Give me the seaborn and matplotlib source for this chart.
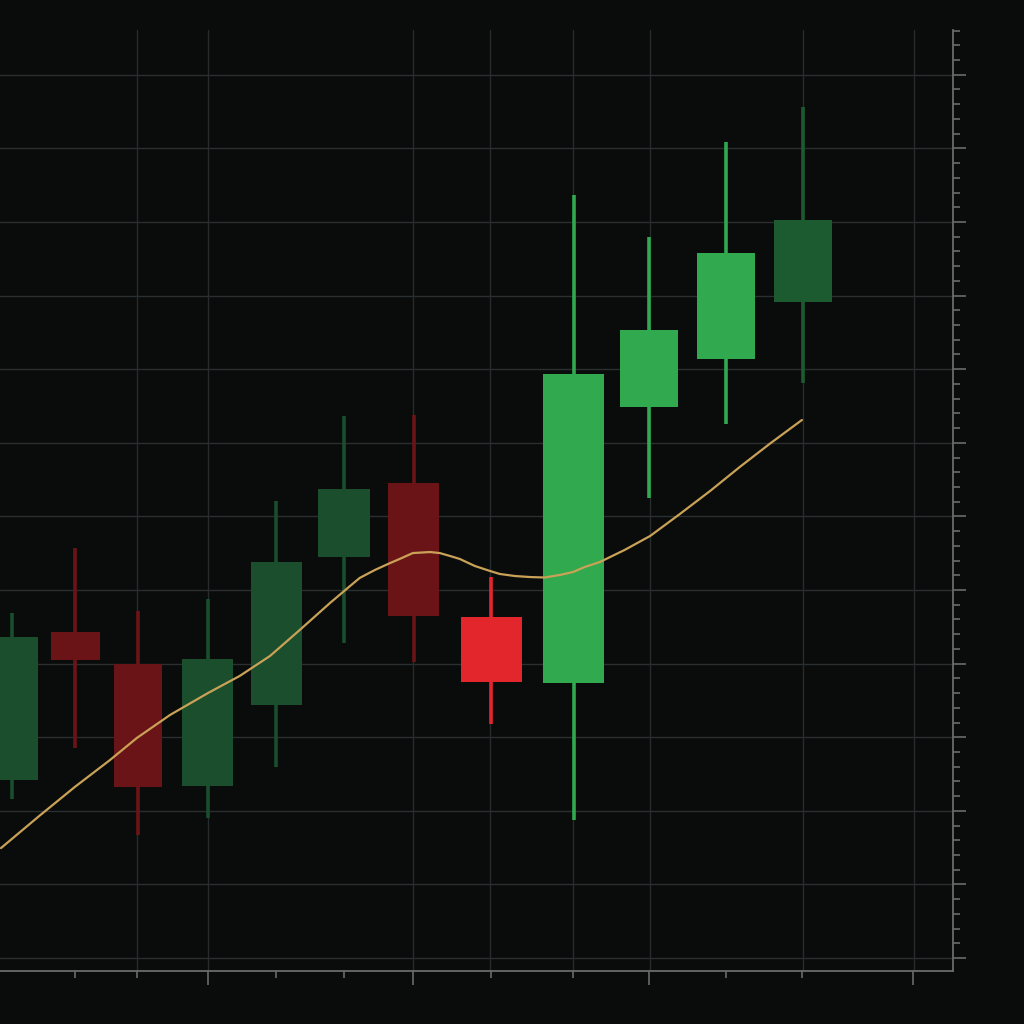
import matplotlib
matplotlib.use("Agg")
import matplotlib.pyplot as plt
import seaborn as sns
import pandas as pd
from matplotlib.ticker import FixedLocator, NullFormatter

# ---- data ----
sessions = [0.16, 1.08, 1.99, 3.00, 3.99, 4.97, 5.98, 7.11, 8.30, 9.39, 10.51, 11.62]
opens  = [112.09, 122.15, 119.97, 111.68, 117.19, 127.24, 132.27, 123.17, 118.68, 137.43, 140.69, 144.57]
highs  = [123.44, 127.85, 123.57, 124.39, 131.05, 136.82, 136.89, 125.88, 151.83, 148.98, 155.43, 157.81]
lows   = [110.80, 114.27, 108.36, 109.51, 112.98, 121.40, 120.11, 115.90, 109.38, 131.25, 136.28, 139.06]
closes = [121.81, 120.24, 111.62, 120.31, 126.90, 131.86, 123.23, 118.75, 139.67, 142.66, 147.89, 150.14]
tones  = ["dg", "dr", "dr", "dg", "dg", "dg", "dr", "br", "bg", "bg", "bg", "mg"]

ma_t = [0.00, 0.57, 1.07, 1.58, 1.97, 2.45, 3.00, 3.46, 3.90, 4.33, 4.77, 5.06, 5.20, 5.42, 5.64,
        5.78, 5.97, 6.22, 6.36, 6.51, 6.65, 6.87, 7.09, 7.23, 7.45, 7.67, 7.88, 8.10, 8.29, 8.46,
        8.68, 9.04, 9.41, 9.84, 10.28, 10.71, 11.14, 11.61]
ma_v = [107.47, 109.71, 111.62, 113.45, 114.95, 116.51, 118.00, 119.16, 120.52, 122.28, 124.12,
        125.27, 125.82, 126.36, 126.83, 127.11, 127.51, 127.58, 127.51, 127.31, 127.11, 126.63,
        126.29, 126.09, 125.95, 125.88, 125.85, 126.02, 126.22, 126.56, 126.90, 127.72, 128.67,
        130.16, 131.73, 133.36, 134.92, 136.55]

# ---- style ----
BG = "#0a0b0b"
palette = {"dg": "#1a4e2d", "dr": "#6b1417", "br": "#e2262b", "bg": "#30a94f", "mg": "#1c5b30"}
body_w = [0.74, 0.70, 0.70, 0.74, 0.74, 0.75, 0.74, 0.88, 0.88, 0.84, 0.85, 0.84]

sns.set_theme(style="dark")
plt.rcParams.update({
    "figure.facecolor": BG, "axes.facecolor": BG, "savefig.facecolor": BG,
})

fig = plt.figure(figsize=(10.24, 10.24), dpi=100)
ax = fig.add_axes([0.0, 53 / 1024, 953 / 1024, 941 / 1024])
ax.set_facecolor(BG)

ax.set_xlim(-0.014, 13.80)
ax.set_ylim(99.12, 163.04)

# grid
hgrid = [100 + 5 * i for i in range(13)]
vgrid = [1.97, 3.00, 5.97, 7.09, 8.29, 9.41, 11.62, 13.23]
for y in hgrid:
    ax.axhline(y, color="#2a2f31", lw=1.0, zorder=0)
for x in vgrid:
    ax.axvline(x, color="#272c2e", lw=1.0, zorder=0)

df = pd.DataFrame({"t": sessions, "open": opens, "high": highs, "low": lows,
                   "close": closes, "tone": tones, "w": body_w})
df["bottom"] = df[["open", "close"]].min(axis=1)
df["height"] = (df["open"] - df["close"]).abs()

for _, r in df.iterrows():
    c = palette[r["tone"]]
    ax.vlines(r["t"], r["low"], r["high"], color=c, lw=2.6, zorder=2)
    ax.bar(r["t"], r["height"], bottom=r["bottom"], width=r["w"], color=c,
           edgecolor="none", zorder=3)

ma = pd.DataFrame({"t": ma_t, "v": ma_v})
sns.lineplot(data=ma, x="t", y="v", ax=ax, color="#c9a257", lw=1.6, zorder=4,
             sort=False, estimator=None)

# axes / ticks
for s in ["top", "left"]:
    ax.spines[s].set_visible(False)
for s in ["bottom", "right"]:
    ax.spines[s].set_visible(True)
    ax.spines[s].set_color("#6b6b6b")
    ax.spines[s].set_linewidth(1.3)

ax.yaxis.tick_right()
ax.xaxis.set_major_locator(FixedLocator([3.00, 5.97, 9.39, 13.22]))
ax.xaxis.set_minor_locator(FixedLocator([1.07, 1.97, 3.99, 4.97, 7.10, 8.29, 10.51, 11.61]))
ax.yaxis.set_major_locator(FixedLocator(hgrid))
ax.yaxis.set_minor_locator(FixedLocator([v for v in range(100, 164) if v % 5]))
for axis in (ax.xaxis, ax.yaxis):
    axis.set_major_formatter(NullFormatter())
    axis.set_minor_formatter(NullFormatter())
ax.tick_params(axis="x", which="major", direction="out", length=10, width=1.2, color="#6b6b6b", bottom=True)
ax.tick_params(axis="x", which="minor", direction="out", length=5, width=1.2, color="#6b6b6b", bottom=True)
ax.tick_params(axis="y", which="major", direction="out", length=9.5, width=1.2, color="#6b6b6b",
               right=True, left=False)
ax.tick_params(axis="y", which="minor", direction="out", length=5, width=1.2, color="#6b6b6b",
               right=True, left=False)
ax.grid(False)
ax.set_xlabel("")
ax.set_ylabel("")

fig.savefig("out.png", dpi=100, facecolor=BG)
